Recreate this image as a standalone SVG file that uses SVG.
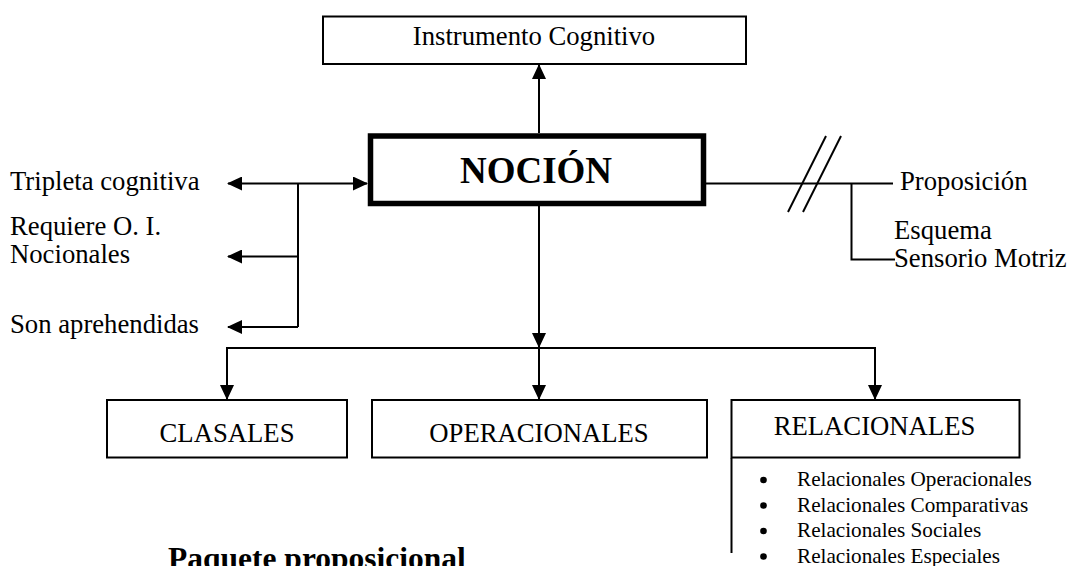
<svg xmlns="http://www.w3.org/2000/svg" width="1069" height="566" viewBox="0 0 1069 566">
<style>
text{font-family:"Liberation Serif","Times New Roman",serif;fill:#000}
.t{font-size:26.7px}
.s{font-size:21.2px}
.box{fill:#fff;stroke:#000;stroke-width:2}
.ln{fill:none;stroke:#000;stroke-width:2}
</style>
<defs>
<marker id="ah" markerUnits="userSpaceOnUse" markerWidth="15" markerHeight="14" refX="14" refY="7" orient="auto-start-reverse">
<path d="M0,0 L15,7 L0,14 z" fill="#000"/>
</marker>
</defs>
<rect width="1069" height="566" fill="#fff"/>
<g id="connectors">
<line class="ln" x1="539" y1="133" x2="539" y2="65" marker-end="url(#ah)"/>
<line class="ln" x1="228" y1="183.5" x2="367" y2="183.5" marker-start="url(#ah)" marker-end="url(#ah)"/>
<line class="ln" x1="298" y1="183.5" x2="298" y2="327"/>
<line class="ln" x1="298" y1="256.5" x2="228" y2="256.5" marker-end="url(#ah)"/>
<line class="ln" x1="298" y1="327" x2="228" y2="327" marker-end="url(#ah)"/>
<line class="ln" x1="706" y1="183.5" x2="893" y2="183.5"/>
<line class="ln" x1="788" y1="212" x2="826" y2="136" stroke-width="1.5"/>
<line class="ln" x1="803" y1="212" x2="841" y2="136" stroke-width="1.5"/>
<polyline class="ln" points="851.5,183.5 851.5,259.5 895,259.5"/>
<line class="ln" x1="539" y1="206" x2="539" y2="347" marker-end="url(#ah)"/>
<polyline class="ln" points="227,399 227,348 875,348 875,399" marker-start="url(#ah)" marker-end="url(#ah)"/>
<line class="ln" x1="539" y1="348" x2="539" y2="399" marker-end="url(#ah)"/>
<line class="ln" x1="731.5" y1="458" x2="731.5" y2="553"/>
</g>
<g id="instrumento">
<rect class="box" x="323" y="16.5" width="423" height="47.5"/>
<text class="t" x="534" y="44.5" text-anchor="middle">Instrumento Cognitivo</text>
</g>
<g id="nocion">
<rect x="370.5" y="136" width="333" height="67.5" fill="#fff" stroke="#000" stroke-width="5.5"/>
<text x="536" y="183" font-size="37" font-weight="bold" text-anchor="middle">NOCIÓN</text>
</g>
<g id="tripleta"><text class="t" x="10" y="190">Tripleta cognitiva</text></g>
<g id="requiere"><text class="t" x="10" y="235">Requiere O. I.</text><text class="t" x="10" y="263">Nocionales</text></g>
<g id="son"><text class="t" x="10" y="333">Son aprehendidas</text></g>
<g id="proposicion"><text class="t" x="900" y="190">Proposición</text></g>
<g id="esquema"><text class="t" x="894" y="238.5">Esquema</text><text class="t" x="894" y="267">Sensorio Motriz</text></g>
<g id="clasales">
<rect class="box" x="107" y="400" width="240" height="57.5"/>
<text class="t" x="227" y="441.5" text-anchor="middle">CLASALES</text>
</g>
<g id="operacionales">
<rect class="box" x="372" y="400" width="335" height="57.5"/>
<text class="t" x="539" y="441.5" text-anchor="middle">OPERACIONALES</text>
</g>
<g id="relacionales">
<rect class="box" x="731.5" y="400" width="288" height="57.5"/>
<text class="t" x="874.5" y="435" text-anchor="middle">RELACIONALES</text>
<circle cx="763.5" cy="480" r="3.3"/>
<circle cx="763.5" cy="505.5" r="3.3"/>
<circle cx="763.5" cy="531" r="3.3"/>
<circle cx="763.5" cy="556.5" r="3.3"/>
<text class="s" x="797" y="486">Relacionales Operacionales</text>
<text class="s" x="797" y="511.5">Relacionales Comparativas</text>
<text class="s" x="797" y="537">Relacionales Sociales</text>
<text class="s" x="797" y="562.5">Relacionales Especiales</text>
</g>
<g id="paquete"><text x="168" y="569" font-size="31.5" font-weight="bold">Paquete proposicional</text></g>
</svg>
